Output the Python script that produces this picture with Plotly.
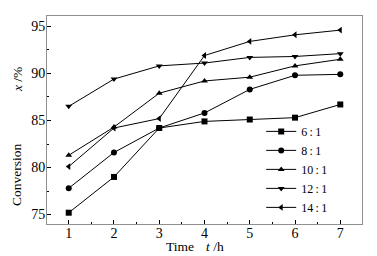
import plotly.graph_objects as go

time_h = [1, 2, 3, 4, 5, 6, 7]
series_names = ["6\u2009:\u20091", "8\u2009:\u20091", "10\u2009:\u20091", "12\u2009:\u20091", "14\u2009:\u20091"]
conv_6 = [75.2, 79.0, 84.2, 84.9, 85.1, 85.3, 86.7]
conv_8 = [77.8, 81.6, 84.2, 85.8, 88.3, 89.8, 89.9]
conv_10 = [81.3, 84.3, 87.9, 89.2, 89.6, 90.8, 91.5]
conv_12 = [86.5, 89.4, 90.8, 91.1, 91.7, 91.8, 92.1]
conv_14 = [80.1, 84.2, 85.2, 91.9, 93.4, 94.1, 94.6]
symbols = ["square", "circle", "triangle-up", "triangle-down", "triangle-left"]
y_ticks = [75, 80, 85, 90, 95]
x_ticks = [1, 2, 3, 4, 5, 6, 7]

FONT = "Liberation Serif, Times New Roman, serif"
fig = go.Figure()
for name, vals, sym in zip(series_names, [conv_6, conv_8, conv_10, conv_12, conv_14], symbols):
    fig.add_trace(go.Scatter(
        x=time_h, y=vals, name=name, mode="lines+markers",
        line=dict(color="black", width=1),
        marker=dict(symbol=sym, size=6, color="black"),
    ))

axis_common = dict(
    showline=True, linecolor="#909090", linewidth=1, mirror=True,
    ticks="inside", ticklen=4, tickcolor="black", showgrid=False, zeroline=False,
    tickfont=dict(family=FONT, size=14, color="black"), automargin=False,
)
fig.update_xaxes(range=[0.52, 7.48], tickvals=x_ticks, ticklabelstandoff=-4,
                 minor=dict(ticks="inside", ticklen=2, dtick=0.5, tick0=0.5, tickcolor="black", showgrid=False),
                 **axis_common)
fig.update_yaxes(range=[74.0, 96.1], tickvals=y_ticks, ticklabelstandoff=-2,
                 minor=dict(ticks="inside", ticklen=2, dtick=2.5, tick0=72.5, tickcolor="black", showgrid=False),
                 **axis_common)

title_font = dict(family=FONT, size=13.5, color="black")
annots = [
    dict(text="Conversion", x=-0.0952, y=0.2356, textangle=-90),
    dict(text="<i>x</i> /%", x=-0.0952, y=0.692, textangle=-90),
    dict(text="Time", x=0.422, y=-0.108, textangle=0),
    dict(text="<i>t</i> /h", x=0.533, y=-0.108, textangle=0),
]
for a in annots:
    fig.add_annotation(xref="paper", yref="paper", xanchor="center", yanchor="middle",
                       showarrow=False, font=title_font, **a)

fig.update_layout(
    width=377, height=256,
    margin=dict(l=47, r=15, t=16, b=32, autoexpand=False),
    paper_bgcolor="white", plot_bgcolor="white",
    showlegend=True,
    legend=dict(x=0.68, y=0.515, xanchor="left", yanchor="top",
                bgcolor="rgba(0,0,0,0)", tracegroupgap=0,
                font=dict(family=FONT, size=12, color="black"),
                itemwidth=30),
)
fig.write_html("out.html", config={"displayModeBar": False},
               post_script="document.body.style.margin='0';document.body.style.overflow='hidden';")
